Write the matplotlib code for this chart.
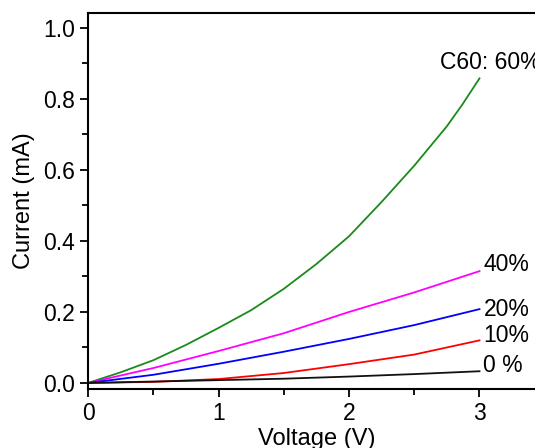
import matplotlib
matplotlib.use("Agg")
import matplotlib.pyplot as plt
from matplotlib.ticker import MultipleLocator, FormatStrFormatter

plt.rcParams['font.family'] = ['Liberation Sans', 'DejaVu Sans']

# Voltage (V) sample points and current (mA) per C60 fraction
v_60 = [0, 0.25, 0.5, 0.75, 1.0, 1.25, 1.5, 1.75, 2.0, 2.25, 2.5, 2.75, 2.87, 3.0]
i_60 = [0, 0.03, 0.064, 0.107, 0.155, 0.205, 0.265, 0.335, 0.413, 0.51, 0.612, 0.723, 0.785, 0.858]

v_lo = [0, 0.5, 1.0, 1.5, 2.0, 2.5, 3.0]
i_40 = [0, 0.042, 0.09, 0.14, 0.2, 0.255, 0.315]
i_20 = [0, 0.023, 0.054, 0.088, 0.124, 0.163, 0.208]
i_10 = [0, 0.003, 0.011, 0.028, 0.053, 0.08, 0.12]
i_0 = [0, 0.004, 0.008, 0.012, 0.018, 0.025, 0.033]

labels = ["C60: 60%", "40%", "20%", "10%", "0 %"]
label_x = [2.7, 3.03, 3.03, 3.03, 3.03]
label_y = [0.904, 0.333, 0.208, 0.135, 0.05]

fig = plt.figure(figsize=(5.35, 4.48), dpi=100)
ax = fig.add_axes([0.1645, 0.1317, 0.8537, 0.84])

ax.plot(v_60, i_60, color='#1a8a1a', lw=1.3)
ax.plot(v_lo, i_40, color='#ff00ff', lw=1.3)
ax.plot(v_lo, i_20, color='#0000ff', lw=1.3)
ax.plot(v_lo, i_10, color='#ff0000', lw=1.3)
ax.plot(v_lo, i_0, color='#111111', lw=1.3)

for t, x, y in zip(labels, label_x, label_y):
    ax.text(x, y, t, fontsize=16.5, ha='left', va='center')

ax.set_xlim(0, 3.5)
ax.set_ylim(-0.017, 1.043)
ax.xaxis.set_major_locator(MultipleLocator(1))
ax.xaxis.set_minor_locator(MultipleLocator(0.5))
ax.yaxis.set_major_locator(MultipleLocator(0.2))
ax.yaxis.set_minor_locator(MultipleLocator(0.1))
ax.yaxis.set_major_formatter(FormatStrFormatter('%.1f'))
ax.tick_params(which='major', direction='out', length=6, width=1.3, labelsize=16.5)
ax.tick_params(which='minor', direction='out', length=4, width=1.3)
for s in ax.spines.values():
    s.set_linewidth(1.5)

ax.set_xlabel("Voltage (V)", fontsize=17, labelpad=2)
ax.set_ylabel("Current (mA)", fontsize=17, labelpad=6)

fig.savefig("out.png", dpi=100)
